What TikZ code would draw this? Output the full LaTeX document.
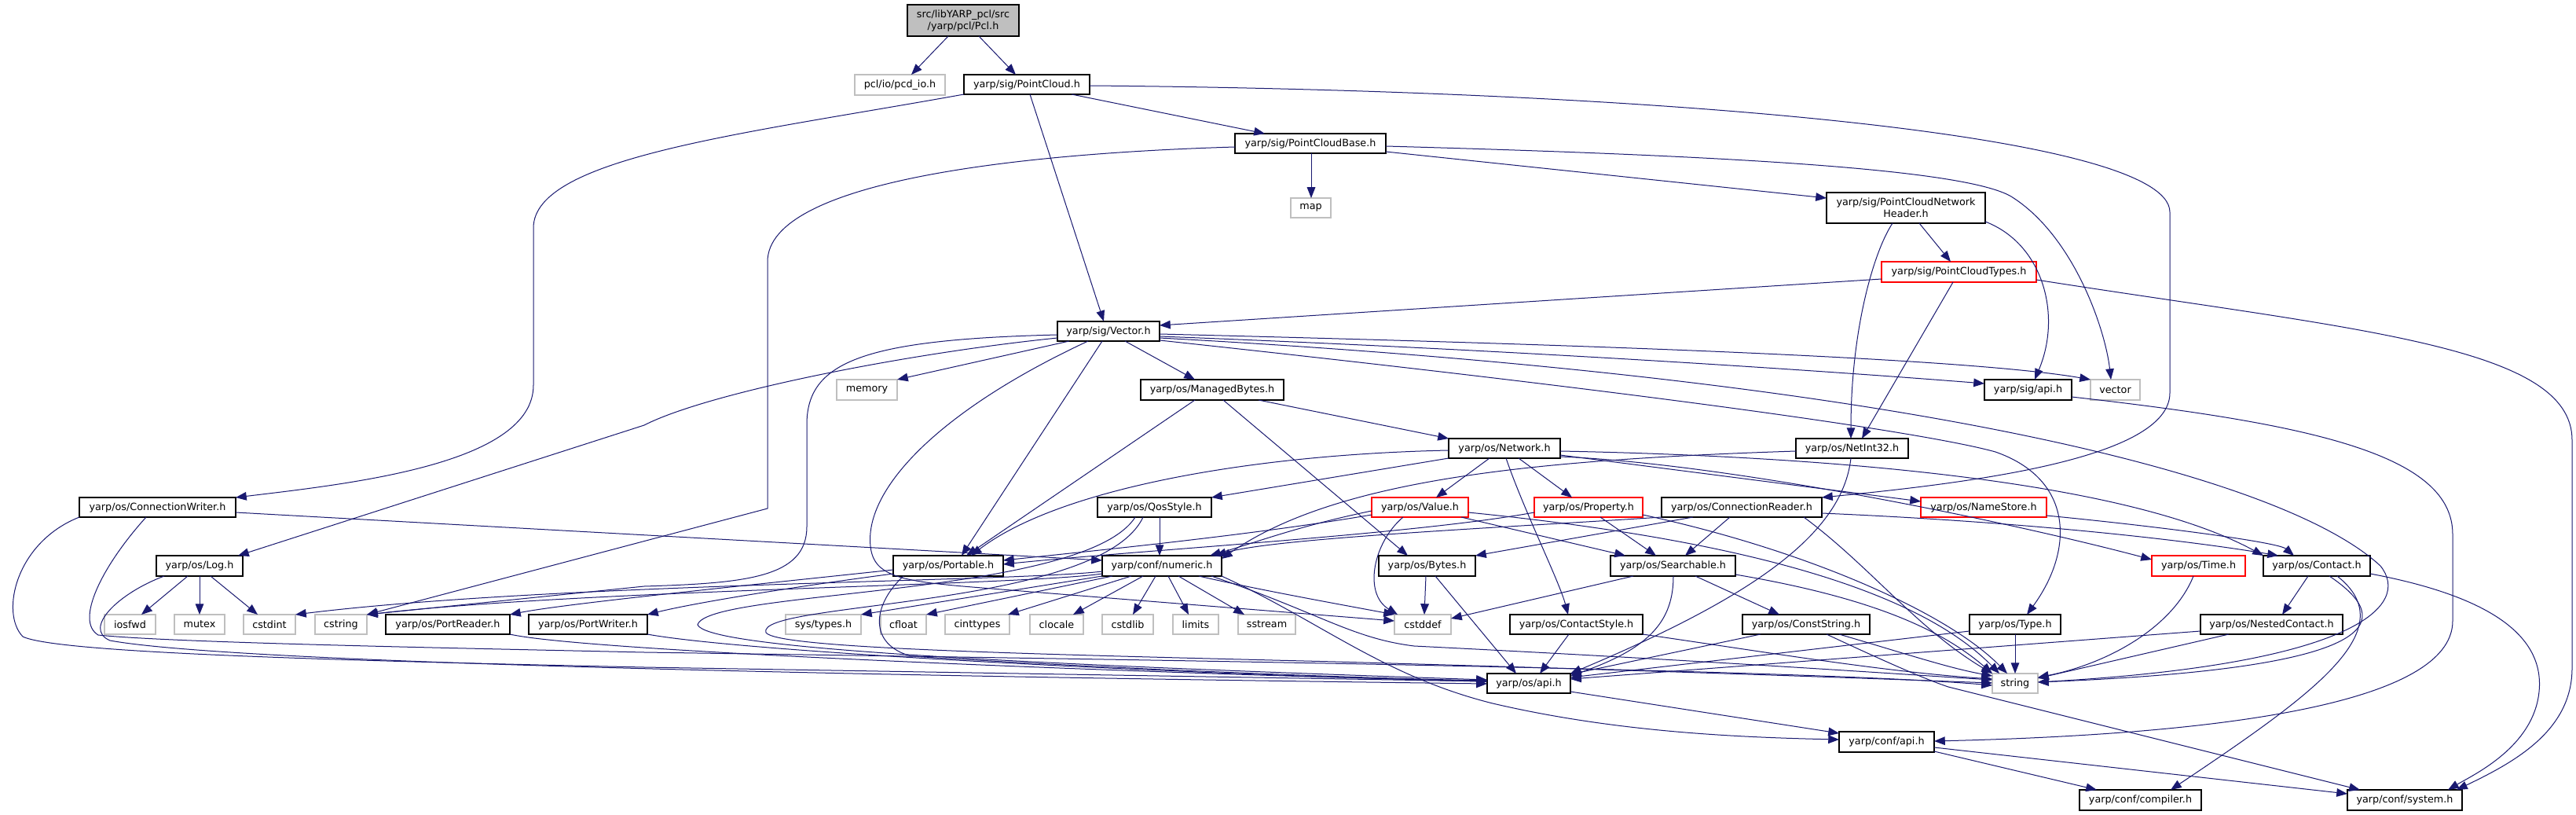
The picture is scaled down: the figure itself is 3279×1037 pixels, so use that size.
\documentclass[tikz,border=0pt]{standalone}
\usepackage{fontspec}
\setmainfont{DejaVu Sans}
\usetikzlibrary{arrows.meta}
\definecolor{edgec}{HTML}{191970}
\newcommand\nodefont{\fontsize{10.2}{12}\selectfont}
\newcommand\mknode[7]{%
  \node[#1, minimum width={(#5-#3)*0.8pt}, minimum height={(#6-#4)*0.8pt}] (#2) at ({(#3+#5)/2},{(#4+#6)/2}) {#7};}
\tikzset{
  nb/.style={draw=black, fill=white, line width=1pt, inner sep=0pt, outer sep=0pt, font=\nodefont, text=black, align=center},
  ext/.style={nb, draw=gray!50},
  rn/.style={nb, draw=red},
  root/.style={nb, fill=gray!50},
  ed/.style={draw=edgec, line width=0.8pt, -{Triangle[length=11pt,width=8.5pt]}}
}
\begin{document}
\begin{tikzpicture}[x=0.8pt,y=-0.8pt]
\fill[white] (0,0) rectangle (3279,1037);
\useasboundingbox (0,0) rectangle (3279,1037);
% nodes
\mknode{root}{pcl}{1155}{6}{1297}{46}{src/libYARP\_pcl/src\\/yarp/pcl/Pcl.h}
\mknode{ext}{pcd}{1088}{95}{1203}{121}{pcl/io/pcd\_io.h}
\mknode{nb}{pc}{1227}{95}{1387}{120}{yarp/sig/PointCloud.h}
\mknode{nb}{pcb}{1572}{170}{1764}{195}{yarp/sig/PointCloudBase.h}
\mknode{ext}{map}{1643}{252}{1694}{277}{map}
\mknode{nb}{pcnh}{2325}{245}{2527}{284}{yarp/sig/PointCloudNetwork\\Header.h}
\mknode{rn}{pct}{2395}{333}{2592}{359}{yarp/sig/PointCloudTypes.h}
\mknode{nb}{vec}{1346}{409}{1476}{434}{yarp/sig/Vector.h}
\mknode{ext}{memory}{1065}{483}{1142}{509}{memory}
\mknode{nb}{mb}{1452}{483}{1634}{509}{yarp/os/ManagedBytes.h}
\mknode{nb}{sigapi}{2526}{483}{2637}{509}{yarp/sig/api.h}
\mknode{ext}{vector}{2661}{483}{2724}{509}{vector}
\mknode{nb}{network}{1844}{558}{1986}{583}{yarp/os/Network.h}
\mknode{nb}{netint}{2286}{558}{2429}{583}{yarp/os/NetInt32.h}
\mknode{nb}{cw}{101}{633}{300}{658}{yarp/os/ConnectionWriter.h}
\mknode{nb}{qos}{1397}{633}{1542}{658}{yarp/os/QosStyle.h}
\mknode{rn}{value}{1746}{633}{1869}{658}{yarp/os/Value.h}
\mknode{rn}{prop}{1953}{633}{2091}{658}{yarp/os/Property.h}
\mknode{nb}{cr}{2115}{633}{2319}{658}{yarp/os/ConnectionReader.h}
\mknode{rn}{namestore}{2445}{633}{2605}{658}{yarp/os/NameStore.h}
\mknode{nb}{log}{199}{707}{309}{733}{yarp/os/Log.h}
\mknode{nb}{portable}{1137}{707}{1277}{733}{yarp/os/Portable.h}
\mknode{nb}{numeric}{1403}{707}{1555}{733}{yarp/conf/numeric.h}
\mknode{nb}{bytes}{1755}{707}{1878}{733}{yarp/os/Bytes.h}
\mknode{nb}{searchable}{2050}{707}{2209}{733}{yarp/os/Searchable.h}
\mknode{rn}{time}{2739}{707}{2858}{733}{yarp/os/Time.h}
\mknode{nb}{contact}{2881}{707}{3017}{733}{yarp/os/Contact.h}
\mknode{ext}{iosfwd}{133}{782}{198}{807}{iosfwd}
\mknode{ext}{mutex}{222}{782}{286}{807}{mutex}
\mknode{ext}{cstdint}{310}{782}{376}{807}{cstdint}
\mknode{ext}{cstring}{401}{782}{467}{807}{cstring}
\mknode{nb}{preader}{491}{782}{649}{807}{yarp/os/PortReader.h}
\mknode{nb}{pwriter}{673}{782}{824}{807}{yarp/os/PortWriter.h}
\mknode{ext}{systypes}{1000}{782}{1096}{807}{sys/types.h}
\mknode{ext}{cfloat}{1121}{782}{1179}{807}{cfloat}
\mknode{ext}{cinttypes}{1203}{782}{1285}{807}{cinttypes}
\mknode{ext}{clocale}{1311}{782}{1379}{807}{clocale}
\mknode{ext}{cstdlib}{1403}{782}{1468}{807}{cstdlib}
\mknode{ext}{limits}{1493}{782}{1551}{807}{limits}
\mknode{ext}{sstream}{1576}{782}{1649}{807}{sstream}
\mknode{ext}{cstddef}{1775}{782}{1847}{807}{cstddef}
\mknode{nb}{cstyle}{1922}{782}{2091}{807}{yarp/os/ContactStyle.h}
\mknode{nb}{cstr}{2218}{782}{2380}{807}{yarp/os/ConstString.h}
\mknode{nb}{type}{2507}{782}{2623}{807}{yarp/os/Type.h}
\mknode{nb}{nested}{2801}{782}{2982}{807}{yarp/os/NestedContact.h}
\mknode{nb}{osapi}{1893}{857}{1999}{882}{yarp/os/api.h}
\mknode{ext}{string}{2536}{857}{2594}{882}{string}
\mknode{nb}{confapi}{2341}{931}{2462}{957}{yarp/conf/api.h}
\mknode{nb}{compiler}{2647}{1005}{2802}{1031}{yarp/conf/compiler.h}
\mknode{nb}{system}{2988}{1005}{3134}{1031}{yarp/conf/system.h}
% edges: Pcl, PointCloud
\draw[ed] (pcl.south -| 1207,0) -- (pcd.north -| 1160,0);
\draw[ed] (pcl.south -| 1246,0) -- (pc.north -| 1293,0);
\draw[ed] (pc.south -| 1364,0) -- (pcb.north -| 1610,0);
\draw[ed] (pc.south -| 1311,0) -- (vec.north -| 1405,0);
\draw[ed] (pc.south west) .. controls (950,170) and (679,200) .. (679,290) -- (679,490) .. controls (679,590) and (450,615) .. (cw.north east);
\draw[ed] (pc.east |- 0,109) .. controls (2100,115) and (2762,170) .. (2762,270) -- (2762,500) .. controls (2762,585) and (2500,615) .. (cr.north east);
% PointCloudBase
\draw[ed] (pcb.south -| 1669,0) -- (map.north -| 1669,0);
\draw[ed] (pcb.east |- 0,193) -- (pcnh.west |- 0,252);
\draw[ed] (pcb.east |- 0,186) .. controls (2200,198) and (2500,215) .. (2560,250) .. controls (2640,300) and (2680,420) .. (vector.north -| 2687,0);
\draw[ed] (pcb.west |- 0,187) .. controls (1300,195) and (977,230) .. (977,333) -- (977,647) -- (cstring.north east);
% PointCloudNetworkHeader, PointCloudTypes
\draw[ed] (pcnh.south -| 2443,0) -- (pct.north -| 2483,0);
\draw[ed] (pcnh.south -| 2409,0) .. controls (2385,320) and (2356,420) .. (netint.north -| 2356,0);
\draw[ed] (pcnh.east |- 0,282) .. controls (2600,310) and (2625,400) .. (sigapi.north -| 2590,0);
\draw[ed] (pct.west |- 0,355) -- (vec.east |- 0,414);
\draw[ed] (pct.south -| 2486,0) -- (netint.north -| 2370,0);
\draw[ed] (pct.east |- 0,356) .. controls (3000,420) and (3274,440) .. (3274,560) -- (3274,850) .. controls (3274,930) and (3200,970) .. (system.north -| 3127,0);
% Vector
\draw[ed] (vec.south -| 1361,0) -- (memory.north east);
\draw[ed] (vec.south -| 1432,0) -- (mb.north -| 1521,0);
\draw[ed] (vec.south -| 1403,0) -- (portable.north -| 1224,0);
\draw[ed] (vec.west |- 0,430) .. controls (1150,450) and (900,500) .. (820,541) -- (log.north -| 303,0);
\draw[ed] (vec.west |- 0,426) .. controls (1100,432) and (1027,460) .. (1027,540) -- (1027,670) .. controls (1027,735) and (950,742) .. (820,746) -- (cstring.north east);
\draw[ed] (vec.south -| 1385,0) .. controls (1200,520) and (1100,620) .. (1108,695) .. controls (1112,735) and (1150,740) .. (1250,748) -- (cstddef.west |- 0,790);
\draw[ed] (vec.east |- 0,425) .. controls (2000,438) and (2500,455) .. (vector.north west);
\draw[ed] (vec.east |- 0,428) .. controls (2000,448) and (2400,478) .. (sigapi.west |- 0,488);
\draw[ed] (vec.east |- 0,430) .. controls (2400,480) and (2900,600) .. (3030,720) .. controls (3070,770) and (3000,845) .. (string.east |- 0,868);
\draw[ed] (vec.east |- 0,433) .. controls (2100,500) and (2450,550) .. (2540,575) .. controls (2640,610) and (2640,700) .. (type.north -| 2580,0);
% ManagedBytes
\draw[ed] (mb.south -| 1602,0) -- (network.north west);
\draw[ed] (mb.south -| 1557,0) -- (bytes.north -| 1792,0);
\draw[ed] (mb.south -| 1521,0) -- (portable.north -| 1230,0);
% sig/api
\draw[ed] (sigapi.east |- 0,505) .. controls (2950,540) and (3122,580) .. (3122,680) -- (3122,790) .. controls (3122,900) and (2800,935) .. (confapi.east |- 0,943);
% Network
\draw[ed] (network.west |- 0,573) .. controls (1600,578) and (1350,620) .. (portable.north -| 1236,0);
\draw[ed] (network.south west) -- (qos.north east);
\draw[ed] (network.south -| 1896,0) -- (value.north -| 1828,0);
\draw[ed] (network.south -| 1933,0) -- (prop.north -| 2001,0);
\draw[ed] (network.south -| 1917,0) .. controls (1940,650) and (1985,740) .. (cstyle.north -| 1996,0);
\draw[ed] (network.east |- 0,574) .. controls (2300,580) and (2700,608) .. (contact.north west);
\draw[ed] (network.east |- 0,579) -- (namestore.west |- 0,638);
\draw[ed] (network.east |- 0,581) .. controls (2200,590) and (2550,662) .. (time.west |- 0,712);
% NetInt32
\draw[ed] (netint.west |- 0,574) .. controls (1950,585) and (1700,610) .. (numeric.east |- 0,711);
\draw[ed] (netint.south -| 2356,0) .. controls (2345,680) and (2230,760) .. (osapi.north east);
% ConnectionWriter
\draw[ed] (cw.east |- 0,652) -- (numeric.west |- 0,713);
\draw[ed] (cw.south west) .. controls (20,690) and (0,780) .. (29,810) .. controls (70,830) and (400,840) .. (820,849) -- (osapi.west |- 0,867);
\draw[ed] (cw.south -| 186,0) .. controls (130,720) and (95,790) .. (125,808) .. controls (220,818) and (600,825) .. (820,830) .. controls (1500,840) and (2300,852) .. (string.west |- 0,872);
% QosStyle
\draw[ed] (qos.south -| 1476,0) -- (numeric.north -| 1476,0);
\draw[ed] (qos.south -| 1445,0) .. controls (1380,760) and (900,750) .. (888,795) .. controls (900,822) and (1200,842) .. (osapi.west |- 0,865);
\draw[ed] (qos.south -| 1455,0) .. controls (1400,775) and (960,765) .. (975,805) .. controls (990,825) and (1300,832) .. (1700,842) .. controls (2200,856) and (2450,866) .. (string.west |- 0,869);
% Value
\draw[ed] (value.west |- 0,650) .. controls (1650,670) and (1600,690) .. (numeric.north -| 1540,0);
\draw[ed] (value.west |- 0,655) .. controls (1600,680) and (1400,700) .. (portable.east |- 0,713);
\draw[ed] (value.south -| 1860,0) -- (searchable.north -| 2069,0);
\draw[ed] (value.south -| 1786,0) .. controls (1748,690) and (1735,755) .. (cstddef.north -| 1779,0);
\draw[ed] (value.east |- 0,652) .. controls (2250,690) and (2450,760) .. (string.north -| 2545,0);
% Property
\draw[ed] (prop.south -| 2037,0) -- (searchable.north -| 2108,0);
\draw[ed] (prop.west |- 0,652) .. controls (1800,680) and (1450,700) .. (portable.east |- 0,718);
\draw[ed] (prop.east |- 0,655) .. controls (2300,700) and (2480,780) .. (string.north -| 2555,0);
% ConnectionReader
\draw[ed] (cr.south -| 2202,0) -- (searchable.north -| 2145,0);
\draw[ed] (cr.south -| 2155,0) -- (bytes.north east);
\draw[ed] (cr.east |- 0,653) .. controls (2600,665) and (2800,690) .. (contact.north -| 2900,0);
\draw[ed] (cr.south -| 2296,0) .. controls (2380,720) and (2440,800) .. (string.north west);
\draw[ed] (cr.south west) .. controls (1900,672) and (1620,685) .. (numeric.north -| 1547,0);
% NameStore
\draw[ed] (namestore.east |- 0,656) .. controls (2750,670) and (2900,690) .. (contact.north -| 2920,0);
% Log
\draw[ed] (log.south -| 239,0) -- (iosfwd.north -| 180,0);
\draw[ed] (log.south -| 254,0) -- (mutex.north -| 254,0);
\draw[ed] (log.south -| 268,0) -- (cstdint.north -| 328,0);
\draw[ed] (log.south -| 209,0) .. controls (150,755) and (105,800) .. (140,815) .. controls (250,835) and (700,855) .. (osapi.west |- 0,870);
% Portable
\draw[ed] (portable.west |- 0,725) .. controls (950,745) and (720,768) .. (preader.north east);
\draw[ed] (portable.west |- 0,730) .. controls (1000,748) and (880,768) .. (pwriter.north east);
\draw[ed] (portable.south -| 1150,0) .. controls (1110,770) and (1105,820) .. (1160,835) .. controls (1400,850) and (1700,862) .. (osapi.west |- 0,866);
\draw[ed] (preader.south east) .. controls (750,830) and (1500,858) .. (osapi.west |- 0,867);
\draw[ed] (pwriter.south east) .. controls (950,830) and (1500,858) .. (osapi.west |- 0,867);
% numeric
\draw[ed] (numeric.south -| 1403,0) -- (systypes.north east);
\draw[ed] (numeric.south -| 1416,0) -- (cfloat.north east);
\draw[ed] (numeric.south -| 1440,0) -- (cinttypes.north -| 1283,0);
\draw[ed] (numeric.south -| 1455,0) -- (clocale.north -| 1366,0);
\draw[ed] (numeric.south -| 1471,0) -- (cstdlib.north -| 1442,0);
\draw[ed] (numeric.south -| 1487,0) -- (limits.north -| 1513,0);
\draw[ed] (numeric.south -| 1500,0) -- (sstream.north -| 1584,0);
\draw[ed] (numeric.south -| 1526,0) .. controls (1600,750) and (1700,768) .. (cstddef.north west);
\draw[ed] (numeric.south -| 1542,0) .. controls (1680,780) and (1720,812) .. (1800,822) .. controls (2200,842) and (2450,860) .. (string.west |- 0,865);
\draw[ed] (numeric.south east) .. controls (1680,790) and (1760,860) .. (1900,895) .. controls (2050,930) and (2200,938) .. (confapi.west |- 0,941);
\draw[ed] (numeric.west |- 0,727) .. controls (1300,740) and (700,742) .. (cstdint.north east);
\draw[ed] (numeric.west |- 0,730) .. controls (1300,745) and (750,750) .. (cstring.north east);
% Bytes
\draw[ed] (bytes.south -| 1815,0) -- (cstddef.north -| 1813,0);
\draw[ed] (bytes.south -| 1827,0) -- (osapi.north -| 1930,0);
% Searchable
\draw[ed] (searchable.south -| 2079,0) -- (cstddef.east |- 0,787);
\draw[ed] (searchable.south -| 2130,0) .. controls (2130,790) and (2100,825) .. (osapi.east |- 0,860);
\draw[ed] (searchable.south -| 2158,0) -- (cstr.north -| 2265,0);
\draw[ed] (searchable.east |- 0,731) .. controls (2380,760) and (2470,800) .. (string.north west);
% ContactStyle, ConstString, Type, Time
\draw[ed] (cstyle.south -| 1997,0) -- (osapi.north -| 1960,0);
\draw[ed] (cstyle.south east) .. controls (2250,830) and (2400,855) .. (string.west |- 0,864);
\draw[ed] (cstr.south -| 2241,0) -- (osapi.east |- 0,858);
\draw[ed] (cstr.south -| 2341,0) .. controls (2420,830) and (2480,850) .. (string.west |- 0,860);
\draw[ed] (cstr.south -| 2325,0) .. controls (2400,842) and (2450,864) .. (2480,874) -- (system.north -| 3004,0);
\draw[ed] (type.south -| 2565,0) -- (string.north -| 2565,0);
\draw[ed] (type.west |- 0,803) -- (osapi.east |- 0,862);
\draw[ed] (time.south -| 2792,0) .. controls (2765,800) and (2680,845) .. (string.east |- 0,862);
% Contact, NestedContact
\draw[ed] (contact.south -| 2938,0) -- (nested.north -| 2905,0);
\draw[ed] (contact.south -| 2965,0) .. controls (3050,790) and (3040,850) .. (string.east |- 0,868);
\draw[ed] (contact.south -| 2975,0) .. controls (3060,800) and (2950,880) .. (compiler.north -| 2763,0);
\draw[ed] (contact.east |- 0,730) .. controls (3150,755) and (3240,800) .. (3232,880) .. controls (3225,950) and (3150,985) .. (system.north -| 3116,0);
\draw[ed] (nested.south -| 2837,0) -- (string.east |- 0,863);
\draw[ed] (nested.west |- 0,803) -- (osapi.east |- 0,864);
% api
\draw[ed] (osapi.east |- 0,880) -- (confapi.west |- 0,933);
\draw[ed] (confapi.east |- 0,956) -- (compiler.north -| 2669,0);
\draw[ed] (confapi.east |- 0,951) -- (system.west |- 0,1010);
\end{tikzpicture}
\end{document}
